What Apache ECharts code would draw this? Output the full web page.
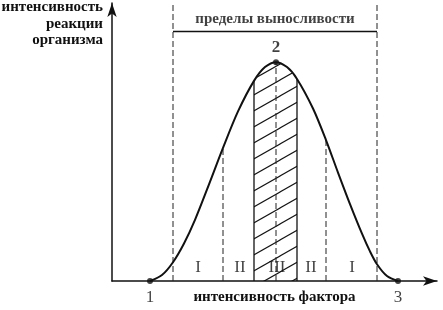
<!DOCTYPE html>
<html><head><meta charset="utf-8">
<script src="https://cdn.jsdelivr.net/npm/echarts@6/dist/echarts.min.js"></script>
<style>html,body{margin:0;padding:0;background:#fff}#c{width:443px;height:310px}</style>
</head><body><div id="c"></div>
<script>
// Curve: organism reaction intensity vs factor intensity (units)
const curveX = [38, 50, 61, 72, 83, 97, 111, 126, 142, 153, 164, 175, 185, 201, 214, 226, 238, 250, 258, 265, 275, 286];
const curveY = [0, 6, 19, 38, 62, 98, 135, 172, 203, 217, 222, 217, 205, 175, 143, 110, 78, 48, 30, 17, 5, 0];
// key points 1, 2, 3
const pointX = [38, 164, 286];
const pointY = [0, 222, 0];
const pointLabels = ['1', '2', '3'];
// tolerance limits
const limitX = [61, 265];
const limitTop = 282;
const limitBarY = 253;
const limitText = 'пределы выносливости';
// zone boundaries (II) and optimum (III)
const zoneX = [111, 214];
const zoneY = [135, 143];
const optX = [142, 185];
const optY = [203, 205];
const optTopX = [142, 153, 164, 175, 185];
const optTopY = [203, 217, 222, 217, 205];
const centerX = 164;
const centerY = 222;
// zone labels
const zoneLabelX = [86, 128, 165, 199, 240];
const zoneLabels = ['I', 'II', 'III', 'II', 'I'];
const zoneLabelY = 14;
const xName = 'интенсивность фактора';
const yName = 'интенсивность\nреакции\nорганизма';

const font = '"Liberation Serif", "DejaVu Serif", serif';
const pair = (xs, ys) => xs.map((x, i) => [x, ys[i]]);

// hatch pattern
const pc = document.createElement('canvas');
const PW = 28, PH = 15.5;
pc.width = PW; pc.height = Math.round(PH);
const H = pc.height;
const g = pc.getContext('2d');
g.strokeStyle = '#111'; g.lineWidth = 1.1;
[0, PW, -PW].forEach(dx => {
  g.beginPath(); g.moveTo(-2 + dx, H + 2 * H / PW); g.lineTo(PW + 2 + dx, -2 * H / PW); g.stroke();
});

const dashed = { color: '#222', width: 1, type: [6, 3] };
const vline = (x, y0, y1, style) => ({
  type: 'line', data: [[x, y0], [x, y1]], symbol: 'none', lineStyle: style, silent: true, z: 2
});

const series = [];
// hatched optimum area
series.push({ type: 'line', data: pair(optTopX, optTopY), smooth: 0.3, symbol: 'none',
  lineStyle: { width: 0 }, areaStyle: { color: { image: pc, repeat: 'repeat' }, opacity: 1 }, z: 1 });
// tolerance dashed lines
limitX.forEach(x => series.push(vline(x, 0, limitTop, dashed)));
// zone boundary dashed lines
zoneX.forEach((x, i) => series.push(vline(x, 0, zoneY[i], dashed)));
// center dashed
series.push(vline(centerX, 0, centerY, dashed));
// optimum solid edges
optX.forEach((x, i) => series.push(vline(x, 0, optY[i], { color: '#111', width: 1.3 })));
// tolerance bar
series.push({ type: 'line', data: [[limitX[0], limitBarY], [limitX[1], limitBarY]], symbol: 'none',
  lineStyle: { color: '#111', width: 1.5 }, silent: true, z: 2 });
series.push({ type: 'scatter', data: [[(limitX[0] + limitX[1]) / 2, limitBarY]], symbolSize: 0, z: 6,
  label: { show: true, formatter: limitText, position: 'top', distance: 5, color: '#111',
    fontFamily: font, fontWeight: 'bold', fontSize: 15 } });
// main curve
series.push({ type: 'line', data: pair(curveX, curveY), smooth: 0.3, symbol: 'none',
  lineStyle: { color: '#111', width: 2 }, z: 5 });
// points 1, 2, 3
series.push({ type: 'scatter', data: pair(pointX, pointY).map((p, i) => ({ value: p,
    label: { show: true, formatter: pointLabels[i], position: i === 1 ? 'top' : 'bottom',
      distance: i === 1 ? 3 : 5, fontWeight: i === 1 ? 'bold' : 'normal' } })),
  symbolSize: 6, itemStyle: { color: '#111' }, z: 6,
  label: { color: '#111', fontFamily: font, fontSize: 17 } });
// zone labels
series.push({ type: 'scatter', data: zoneLabelX.map(x => [x, zoneLabelY]), symbolSize: 0, z: 6,
  label: { show: true, position: 'inside', color: '#111', fontFamily: font, fontSize: 17,
    formatter: p => zoneLabels[p.dataIndex] } });

const chart = echarts.init(document.getElementById('c'), null, { renderer: 'canvas' });
chart.setOption({
  animation: false,
  grid: { left: 112, right: 6, top: 3, bottom: 25 },
  xAxis: { type: 'value', min: 0, max: 325, name: xName, nameLocation: 'middle', nameGap: 9,
    nameTextStyle: { color: '#111', fontFamily: font, fontWeight: 'bold', fontSize: 15, verticalAlign: 'top' },
    axisLine: { onZero: false, lineStyle: { color: '#111', width: 1.5 }, symbol: ['none', 'arrow'], symbolSize: [7, 14] },
    axisTick: { show: false }, axisLabel: { show: false }, splitLine: { show: false } },
  yAxis: { type: 'value', min: 0, max: 282,
    axisLine: { show: true, lineStyle: { color: '#111', width: 1.5 }, symbol: ['none', 'arrow'], symbolSize: [7, 14] },
    axisTick: { show: false }, axisLabel: { show: false }, splitLine: { show: false } },
  graphic: [{ type: 'text', x: 103, y: -1, style: { text: yName, align: 'right', verticalAlign: 'top',
    lineHeight: 16.5, fill: '#111', font: 'bold 15px ' + font } }],
  series
});
</script></body></html>
